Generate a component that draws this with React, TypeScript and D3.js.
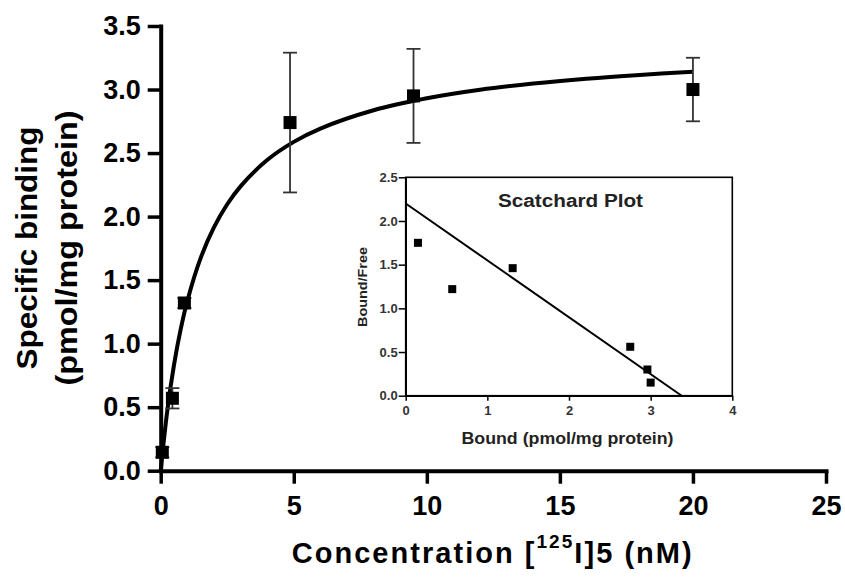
import { useEffect, useRef } from "react"
import * as d3 from "d3"

// main saturation binding data
const conc = [0.06, 0.44, 0.89, 4.86, 9.5, 20.0]
const bound = [0.145, 0.57, 1.32, 2.74, 2.95, 3.0]
const sem = [0.04, 0.08, 0.04, 0.55, 0.37, 0.25]

// fitted curve
const fitX = [0, 0.25, 0.5, 0.75, 1, 1.5, 2, 2.5, 3, 4, 5, 6, 8, 10, 12, 14, 16, 18, 20]
const fitY = [0, 0.475, 0.833, 1.112, 1.336, 1.673, 1.915, 2.097, 2.238, 2.445, 2.588, 2.693, 2.837, 2.931, 2.998, 3.047, 3.085, 3.115, 3.14]

const xTicks = [0, 5, 10, 15, 20, 25]
const yTicks = [0, 0.5, 1, 1.5, 2, 2.5, 3, 3.5]

// scatchard inset
const scBound = [0.15, 0.57, 1.31, 2.75, 2.96, 3.0]
const scRatio = [1.75, 1.22, 1.46, 0.56, 0.3, 0.15]
const scLineX = [0, 3.38]
const scLineY = [2.2, 0]
const scXTicks = [0, 1, 2, 3, 4]
const scYTicks = [0, 0.5, 1, 1.5, 2, 2.5]

const W = 845
const H = 578
const FONT = "'Liberation Sans', Arial, sans-serif"

const App = () => {
  const ref = useRef<SVGSVGElement>(null)

  useEffect(() => {
    const svg = d3.select(ref.current)
    svg.selectAll("*").remove()
    svg.style("font-family", FONT)

    const x = d3.scaleLinear().domain([0, 25]).range([160.7, 826])
    const y = d3.scaleLinear().domain([0, 3.5]).range([470.7, 26])

    // axes
    const gx = svg
      .append("g")
      .attr("transform", `translate(0,${y(0)})`)
      .call(
        d3.axisBottom(x).tickValues(xTicks).tickSize(13).tickSizeOuter(0).tickPadding(12).tickFormat(d3.format("d"))
      )
    const gy = svg
      .append("g")
      .attr("transform", `translate(${x(0)},0)`)
      .call(
        d3.axisLeft(y).tickValues(yTicks).tickSize(13).tickSizeOuter(0).tickPadding(7).tickFormat(d3.format(".1f"))
      )
    for (const g of [gx, gy]) {
      g.select(".domain").attr("stroke", "#000").attr("stroke-width", 4).attr("stroke-linecap", "square")
      g.selectAll(".tick line").attr("stroke", "#000").attr("stroke-width", 3.5)
      g.selectAll(".tick text")
        .attr("fill", "#000")
        .style("font-size", "27px")
        .style("font-weight", "bold")
        .style("font-family", FONT)
    }

    // fit curve
    const line = d3
      .line<number>()
      .x((d) => x(d))
      .y((_, i) => y(fitY[i]))
      .curve(d3.curveCatmullRom)
    svg
      .append("path")
      .attr("d", line(fitX))
      .attr("fill", "none")
      .attr("stroke", "#000")
      .attr("stroke-width", 4)

    // error bars
    const eb = svg.append("g").attr("stroke", "#333").attr("stroke-width", 1.8)
    conc.forEach((c, i) => {
      const cx = x(c)
      const top = y(bound[i] + sem[i])
      const bot = y(bound[i] - sem[i])
      eb.append("line").attr("x1", cx).attr("x2", cx).attr("y1", top).attr("y2", bot)
      eb.append("line").attr("x1", cx - 7).attr("x2", cx + 7).attr("y1", top).attr("y2", top)
      eb.append("line").attr("x1", cx - 7).attr("x2", cx + 7).attr("y1", bot).attr("y2", bot)
    })

    // points
    svg
      .append("g")
      .selectAll("rect")
      .data(conc)
      .enter()
      .append("rect")
      .attr("x", (d) => x(d) - 6.5)
      .attr("y", (_, i) => y(bound[i]) - 6.5)
      .attr("width", 13)
      .attr("height", 13)
      .attr("fill", "#000")

    // axis titles
    const yt = svg
      .append("g")
      .attr("transform", "translate(0,248) rotate(-90)")
      .style("font-weight", "bold")
      .style("font-size", "29px")
      .attr("text-anchor", "middle")
    yt.append("text").attr("x", 0).attr("y", 37).attr("textLength", 243).attr("lengthAdjust", "spacingAndGlyphs").text("Specific binding")
    yt.append("text").attr("x", 0).attr("y", 77).attr("textLength", 275).attr("lengthAdjust", "spacingAndGlyphs").text("(pmol/mg protein)")

    const xt = svg
      .append("text")
      .attr("x", 291.7)
      .attr("y", 563)
      .attr("textLength", 400)
      .attr("lengthAdjust", "spacing")
      .style("font-weight", "bold")
      .style("font-size", "29px")
    xt.append("tspan").text("Concentration [")
    xt.append("tspan").attr("dy", -15).style("font-size", "19px").text("125")
    xt.append("tspan").attr("dy", 15).text("I]5 (nM)")

    // ---- scatchard inset ----
    const xi = d3.scaleLinear().domain([0, 4]).range([405.7, 732.3])
    const yi = d3.scaleLinear().domain([0, 2.5]).range([395.7, 177.3])

    svg
      .append("rect")
      .attr("x", xi(0))
      .attr("y", yi(2.5))
      .attr("width", xi(4) - xi(0))
      .attr("height", yi(0) - yi(2.5))
      .attr("fill", "#fff")
      .attr("stroke", "#000")
      .attr("stroke-width", 1.6)

    const gxi = svg
      .append("g")
      .attr("transform", `translate(0,${yi(0)})`)
      .call(d3.axisBottom(xi).tickValues(scXTicks).tickSize(5).tickSizeOuter(0).tickPadding(5).tickFormat(d3.format("d")))
    const gyi = svg
      .append("g")
      .attr("transform", `translate(${xi(0)},0)`)
      .call(d3.axisLeft(yi).tickValues(scYTicks).tickSize(7).tickSizeOuter(0).tickPadding(1).tickFormat(d3.format(".1f")))
    for (const g of [gxi, gyi]) {
      g.select(".domain").attr("stroke", "#000").attr("stroke-width", 1.6)
      g.selectAll(".tick line").attr("stroke", "#000").attr("stroke-width", 1.5)
      g.selectAll(".tick text")
        .attr("fill", "#333")
        .style("font-size", "13px")
        .style("font-weight", "bold")
        .style("font-family", FONT)
    }

    svg
      .append("line")
      .attr("x1", xi(scLineX[0]))
      .attr("y1", yi(scLineY[0]))
      .attr("x2", xi(scLineX[1]))
      .attr("y2", yi(scLineY[1]))
      .attr("stroke", "#000")
      .attr("stroke-width", 2)

    svg
      .append("g")
      .selectAll("rect")
      .data(scBound)
      .enter()
      .append("rect")
      .attr("x", (d) => xi(d) - 4)
      .attr("y", (_, i) => yi(scRatio[i]) - 4)
      .attr("width", 8)
      .attr("height", 8)
      .attr("fill", "#000")

    svg
      .append("text")
      .attr("x", 570.5)
      .attr("y", 206.5)
      .attr("text-anchor", "middle")
      .attr("textLength", 145)
      .attr("lengthAdjust", "spacingAndGlyphs")
      .style("font-weight", "bold")
      .style("font-size", "18px")
      .attr("fill", "#222")
      .text("Scatchard Plot")

    svg
      .append("text")
      .attr("x", 567.5)
      .attr("y", 443.5)
      .attr("text-anchor", "middle")
      .attr("textLength", 212)
      .attr("lengthAdjust", "spacingAndGlyphs")
      .style("font-weight", "bold")
      .style("font-size", "16px")
      .attr("fill", "#222")
      .text("Bound (pmol/mg protein)")

    svg
      .append("text")
      .attr("transform", "translate(367,287) rotate(-90)")
      .attr("text-anchor", "middle")
      .attr("textLength", 80)
      .attr("lengthAdjust", "spacingAndGlyphs")
      .style("font-weight", "bold")
      .style("font-size", "13px")
      .attr("fill", "#222")
      .text("Bound/Free")
  }, [])

  return (
    <div style={{ position: "absolute", left: 0, top: 0, width: W, height: H, background: "#fff" }}>
      <svg ref={ref} width={W} height={H} viewBox={`0 0 ${W} ${H}`} style={{ display: "block" }} />
    </div>
  )
}

export default App
